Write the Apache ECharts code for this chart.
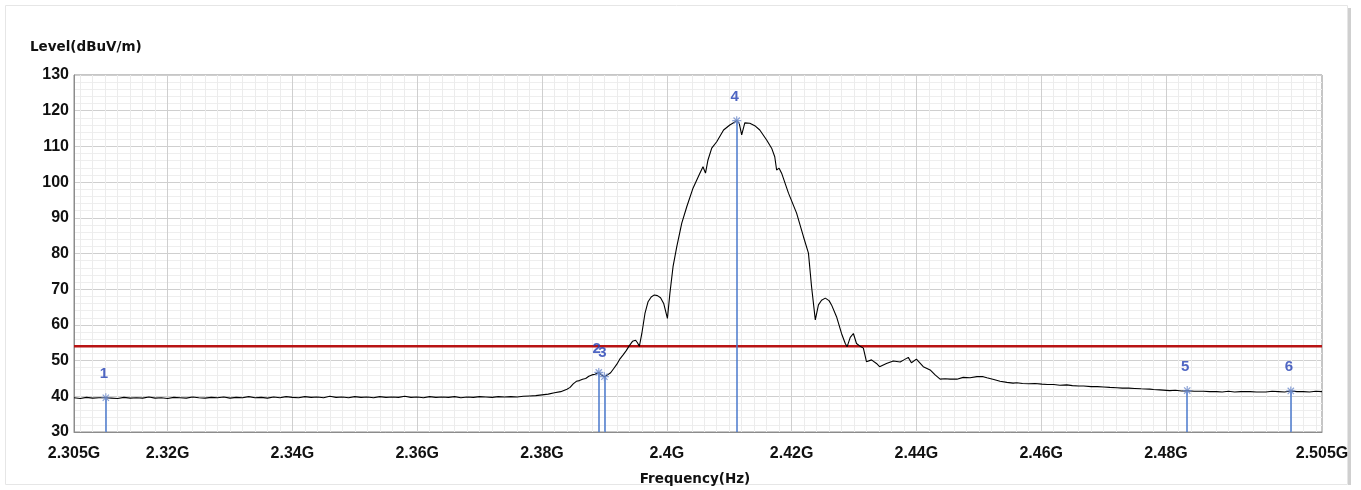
<!DOCTYPE html>
<html>
<head>
<meta charset="utf-8">
<script src="https://cdn.jsdelivr.net/npm/echarts@6/dist/echarts.min.js"></script>
<style>
html,body{margin:0;padding:0;background:#fff;}
#chart{width:1361px;height:490px;}
</style>
</head>
<body>
<div id="chart"></div>
<script>
// Frequency in MHz, level in dBuV/m
const freqMHz = [
2305,2306,2307,2308,2309,2310,2311,2312,2313,2314,2315,2316,2317,2318,2319,2320,
2321,2322,2323,2324,2325,2326,2327,2328,2329,2330,2331,2332,2333,2334,2335,2336,
2337,2338,2339,2340,2341,2342,2343,2344,2345,2346,2347,2348,2349,2350,2351,2352,
2353,2354,2355,2356,2357,2358,2359,2360,2361,2362,2363,2364,2365,2366,2367,2368,
2369,2370,2371,2372,2373,2374,2375,2376,2377,2378,2379,2380,2381,2382,2383,2384,
2384.5,2385,2385.5,2386,2386.5,2387,2387.5,2388,2388.5,2389.1,2389.5,2390.0,2390.5,
2391.0,2391.5,2392.0,2392.5,2393.0,2393.5,2394.0,2394.5,2395.0,2395.3,2395.6,2396.0,
2396.5,2397.0,2397.5,2398.0,2398.5,2399.0,2399.5,2400.1,2400.5,2401.0,2401.6,2402.4,
2403.2,2404.2,2405.3,2405.8,2406.2,2406.6,2407.2,2408.0,2409.1,2410.1,2410.7,2411.2,
2411.6,2412.0,2412.5,2413.3,2414.1,2414.9,2416.0,2416.8,2417.3,2417.6,2418.0,2418.4,
2419.5,2420.8,2421.9,2422.7,2423.2,2423.8,2424.3,2424.8,2425.4,2426.0,2426.4,2427.2,
2428.0,2428.6,2428.9,2429.4,2429.9,2430.4,2431.0,2431.5,2432.0,2432.8,2433.6,2434.1,
2435.2,2436.3,2437.4,2438.0,2438.7,2439.2,2440.0,2441.1,2442.2,2443.0,2443.8,2444.6,
2445.4,2446.5,2447.5,2448.6,2449.7,2450.7,2451.3,2452.4,2453.4,2454.5,2455.5,2456.1,
2457,2458,2459,2460.1,2461,2462,2463,2464.1,2465,2466,2466.8,2468,2469,2470,2471,2472.1,
2473,2474,2475,2476,2477.4,2478,2479,2480.6,2481.5,2482.5,2483.4,2484.5,2486,2487,2488.1,
2489,2490,2491,2492,2493.5,2494.5,2496,2497,2498,2499,2500,2501,2502,2503,2504,2505
];
const levelDb = [
39.6,39.4,39.7,39.5,39.6,39.6,39.5,39.4,39.7,39.5,39.6,39.5,39.8,39.5,39.6,39.4,
39.7,39.6,39.5,39.8,39.6,39.5,39.7,39.6,39.8,39.5,39.7,39.6,39.9,39.6,39.7,39.5,
39.8,39.6,39.9,39.7,39.6,39.9,39.7,39.8,39.6,40.0,39.7,39.8,39.6,39.9,39.7,39.8,
39.6,39.9,39.7,39.8,39.7,40.0,39.7,39.8,39.6,39.9,39.7,39.8,39.7,39.9,39.6,39.8,
39.7,39.9,39.8,39.7,39.9,39.8,39.9,39.8,40.0,40.1,40.2,40.4,40.6,41.0,41.3,42.0,
42.5,43.5,44.2,44.4,44.8,45.0,45.6,46.0,46.2,46.7,46.0,45.5,46.0,
46.6,47.8,49.0,50.5,51.6,52.8,54.2,55.4,55.7,55.0,54.0,57.6,
63.2,66.5,67.8,68.4,68.2,67.6,66.0,61.8,68.9,76.3,81.9,88.5,
93.1,98.3,102.5,104.3,102.5,106.2,109.5,111.3,114.6,116.0,116.6,117.2,
116.5,113.2,116.6,116.5,115.8,114.6,111.8,109.5,107.1,103.4,103.9,102.5,
96.9,91.3,84.7,80.1,70.7,61.4,65.6,66.9,67.5,66.8,65.6,62.3,
57.6,54.8,53.9,56.5,57.6,54.8,54.0,53.5,49.7,50.2,49.2,48.3,
49.2,49.9,49.6,50.2,50.9,49.4,50.4,48.3,47.4,46.0,44.8,44.9,
44.8,44.8,45.3,45.2,45.5,45.5,45.2,44.7,44.2,43.9,43.7,43.8,
43.6,43.5,43.6,43.4,43.3,43.3,43.1,43.2,43.0,42.9,42.9,42.7,42.7,42.6,42.5,42.4,
42.3,42.3,42.2,42.1,42.0,41.9,41.8,41.6,41.7,41.5,41.6,41.4,41.4,41.3,41.3,
41.2,41.4,41.2,41.3,41.3,41.2,41.2,41.4,41.3,41.2,41.5,41.3,41.3,41.2,41.4,41.3
];
const markerIds = ['1','2','3','4','5','6'];
const markerFreq = [2310.1, 2389.1, 2390.0, 2411.2, 2483.4, 2500.0];
const markerLevel = [39.6, 46.7, 45.5, 117.2, 41.6, 41.5];
const limitFreq = [2305, 2505];
const limitLevel = [54, 54];
const xTickValues = [2305,2320,2340,2360,2380,2400,2420,2440,2460,2480,2505];
const xTickLabels = ['2.305G','2.32G','2.34G','2.36G','2.38G','2.4G','2.42G','2.44G','2.46G','2.48G','2.505G'];
const xMajorGrid = [2320,2340,2360,2380,2400,2420,2440,2460,2480];
const xMinorGrid = [];
for (let f = 2306; f < 2505; f += 2) { if (xMajorGrid.indexOf(f) < 0) xMinorGrid.push(f); }

const X_MIN = 2305, X_MAX = 2505, Y_MIN = 30, Y_MAX = 130;

const chart = echarts.init(document.getElementById('chart'), null, {renderer: 'canvas'});
const tickFont = {fontFamily: 'Liberation Sans', fontWeight: 'bold', fontSize: 16, color: '#111'};

const option = {
  animation: false,
  backgroundColor: '#ffffff',
  grid: {left: 74, top: 75, right: 39, bottom: 58, show: true, borderColor: '#8c8c8c', borderWidth: 1, backgroundColor: 'transparent'},
  graphic: [
    {type: 'rect', shape: {x: 5.5, y: 5.5, width: 1342, height: 479}, style: {fill: 'none', stroke: '#e6e6e6', lineWidth: 1}, silent: true, z: -10},
    {type: 'rect', shape: {x: 1348, y: 8, width: 3, height: 477}, style: {fill: '#cfcfcf'}, silent: true, z: -10},
    {type: 'text', left: 30, top: 40, style: {text: 'Level(dBuV/m)', fontFamily: 'DejaVu Sans', fontWeight: 'bold', fontSize: 13.5, fill: '#111'}},
    {type: 'text', x: 695, y: 479, style: {text: 'Frequency(Hz)', fontFamily: 'DejaVu Sans', fontWeight: 'bold', fontSize: 13.5, fill: '#111', align: 'center', verticalAlign: 'middle'}}
  ],
  xAxis: {
    type: 'value', min: X_MIN, max: X_MAX,
    axisLine: {show: true, lineStyle: {color: '#8c8c8c'}},
    axisTick: {show: false},
    splitLine: {show: false},
    axisLabel: Object.assign({
      customValues: xTickValues,
      margin: 14,
      formatter: function (v) { const i = xTickValues.indexOf(Math.round(v)); return i >= 0 ? xTickLabels[i] : ''; },
      showMinLabel: true, showMaxLabel: true
    }, tickFont)
  },
  yAxis: {
    type: 'value', min: Y_MIN, max: Y_MAX, interval: 10,
    axisLine: {show: true, lineStyle: {color: '#8c8c8c'}},
    axisTick: {show: false},
    axisLabel: Object.assign({margin: 5}, tickFont),
    splitLine: {show: true, lineStyle: {color: '#cfcfcf', width: 1}},
    minorTick: {show: false, splitNumber: 5},
    minorSplitLine: {show: true, lineStyle: {color: '#eeeeee', width: 1}}
  },
  series: [
    {
      name: 'gridMinor', type: 'line', data: [], silent: true, z: 1,
      markLine: {silent: true, z: 1, symbol: 'none', label: {show: false}, animation: false,
        lineStyle: {color: '#ececec', width: 1, type: 'solid'},
        data: xMinorGrid.map(f => ({xAxis: f}))}
    },
    {
      name: 'gridMajor', type: 'line', data: [], silent: true, z: 1,
      markLine: {silent: true, z: 1, symbol: 'none', label: {show: false}, animation: false,
        lineStyle: {color: '#cfcfcf', width: 1, type: 'solid'},
        data: xMajorGrid.map(f => ({xAxis: f}))}
    },
    {
      name: 'Limit', type: 'line', z: 3, symbol: 'none', silent: true,
      data: limitFreq.map((f, i) => [f, limitLevel[i]]),
      lineStyle: {color: '#b81414', width: 2.5}
    },
    {
      name: 'Level', type: 'line', z: 5, symbol: 'none', silent: true,
      data: freqMHz.map((f, i) => [f, levelDb[i]]),
      lineStyle: {color: '#000000', width: 1.1}
    },
    {
      name: 'Markers', type: 'scatter', z: 7, silent: true,
      data: markerFreq.map((f, i) => ({value: [f, markerLevel[i]], name: markerIds[i]})),
      symbol: 'path://M0,-5L0,5M-5,0L5,0M-3.5,-3.5L3.5,3.5M-3.5,3.5L3.5,-3.5',
      symbolSize: 9,
      itemStyle: {color: 'transparent', borderColor: '#6f8ccc', borderWidth: 1.2},
      label: {show: true, position: 'top', distance: 11, offset: [-2, 0], formatter: p => p.name,
        fontFamily: 'Liberation Sans', fontWeight: 'bold', fontSize: 15, color: '#2340b4'},
      markLine: {silent: true, z: 6, symbol: 'none', label: {show: false}, animation: false,
        lineStyle: {color: '#4a78cc', width: 1.5, type: 'solid'},
        data: markerFreq.map((f, i) => [{coord: [f, markerLevel[i]]}, {coord: [f, Y_MIN]}])}
    }
  ]
};
chart.setOption(option);
</script>
</body>
</html>
